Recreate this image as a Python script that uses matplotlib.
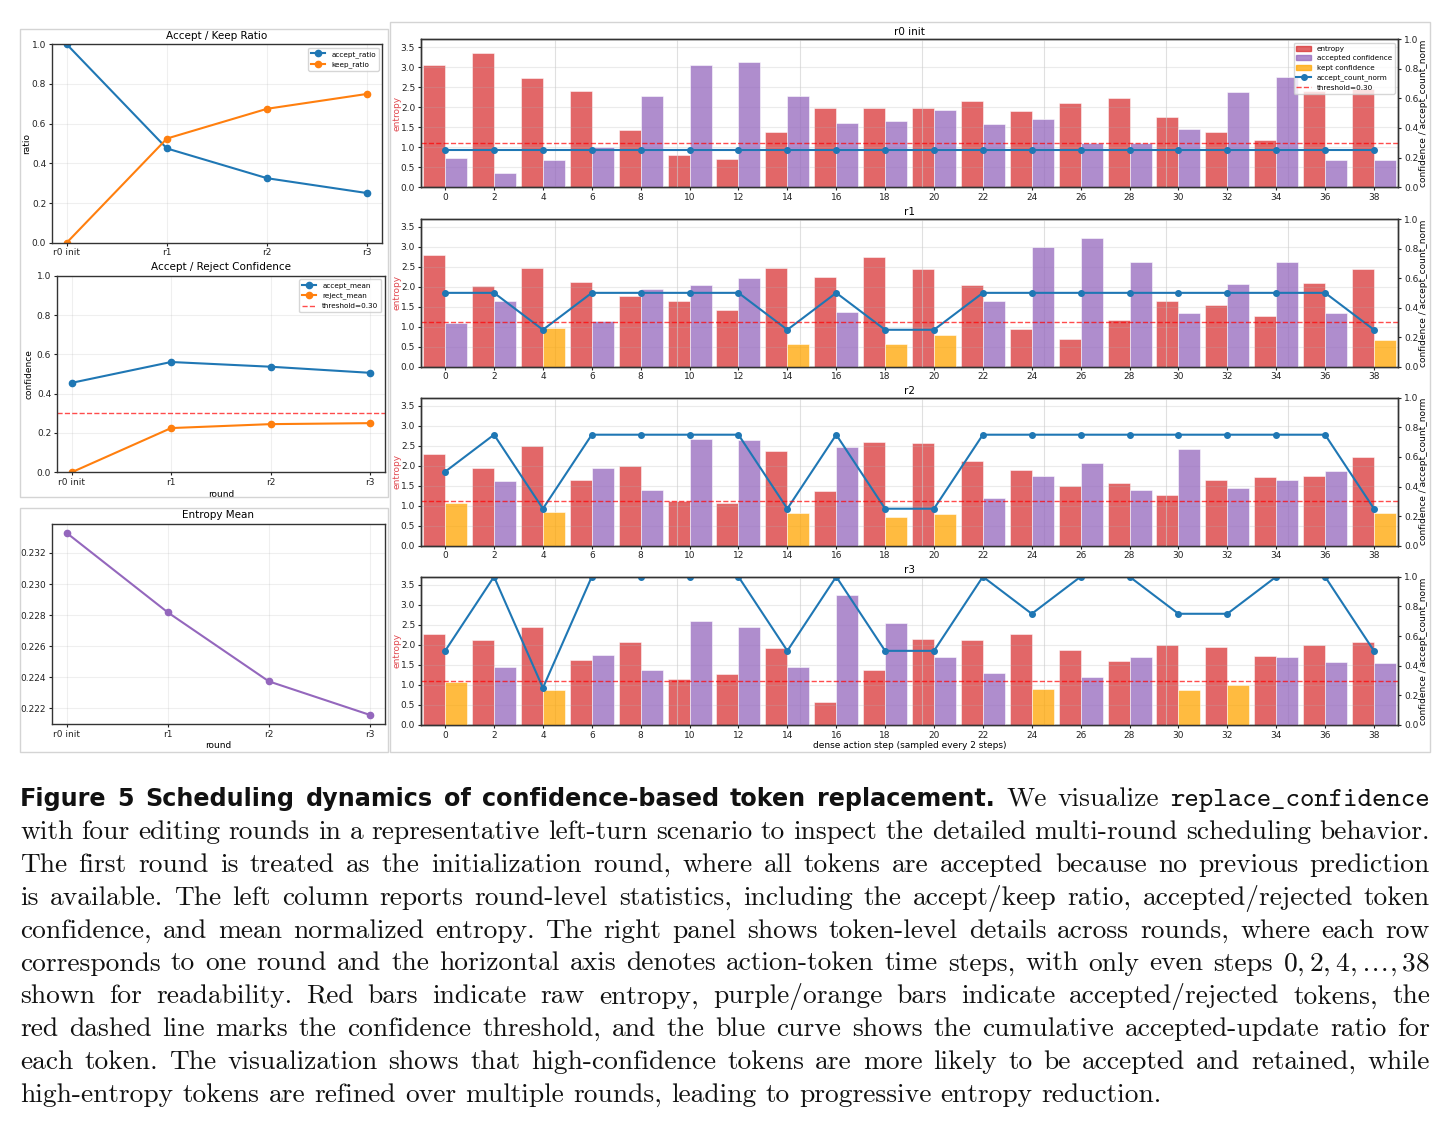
import numpy as np
import matplotlib
matplotlib.use("Agg")
import matplotlib.pyplot as plt
from matplotlib.patches import Patch, Rectangle
from matplotlib.lines import Line2D
from matplotlib.ticker import FormatStrFormatter

plt.rcParams["mathtext.fontset"] = "cm"

W, H = 1451, 1122

# ---- round level stats (left column) ----
rounds = ["r0 init", "r1", "r2", "r3"]
accept_ratio = [1.0, 0.475, 0.325, 0.25]
keep_ratio = [0.0, 0.525, 0.675, 0.75]
accept_mean = [0.455, 0.561, 0.537, 0.506]
reject_mean = [0.0, 0.225, 0.245, 0.250]
threshold = 0.30
entropy_mean = [0.23328, 0.22817, 0.22373, 0.22157]

# ---- token level details (right panel) ----
steps = list(range(0, 40, 2))
round_titles = ["r0 init", "r1", "r2", "r3"]

entropy_r0 = [3.04, 3.35, 2.73, 2.40, 1.42, 0.80, 0.70, 1.37, 1.97, 1.97,
              1.98, 2.16, 1.90, 2.11, 2.23, 1.76, 1.39, 1.17, 2.41, 2.45]
conf_r0 = [0.200, 0.096, 0.184, 0.270, 0.614, 0.827, 0.843, 0.616, 0.432, 0.450,
           0.524, 0.427, 0.463, 0.298, 0.302, 0.393, 0.641, 0.743, 0.187, 0.183]
kept_r0 = []
count_r0 = [0.25, 0.25, 0.25, 0.25, 0.25, 0.25, 0.25, 0.25, 0.25, 0.25,
            0.25, 0.25, 0.25, 0.25, 0.25, 0.25, 0.25, 0.25, 0.25, 0.25]

entropy_r1 = [2.80, 2.02, 2.47, 2.11, 1.78, 1.65, 1.43, 2.48, 2.25, 2.75,
              2.45, 2.05, 0.95, 0.70, 1.16, 1.64, 1.54, 1.27, 2.10, 2.44]
conf_r1 = [0.298, 0.446, 0.260, 0.311, 0.529, 0.556, 0.598, 0.152, 0.373, 0.155,
           0.217, 0.442, 0.808, 0.869, 0.707, 0.366, 0.558, 0.711, 0.363, 0.178]
kept_r1 = [4, 14, 18, 20, 38]
count_r1 = [0.5, 0.5, 0.25, 0.5, 0.5, 0.5, 0.5, 0.25, 0.5, 0.25,
            0.25, 0.5, 0.5, 0.5, 0.5, 0.5, 0.5, 0.5, 0.5, 0.25]

entropy_r2 = [2.28, 1.95, 2.49, 1.65, 1.99, 1.11, 1.06, 2.37, 1.37, 2.59,
              2.56, 2.11, 1.89, 1.50, 1.56, 1.27, 1.64, 1.72, 1.75, 2.21]
conf_r2 = [0.287, 0.438, 0.227, 0.526, 0.375, 0.719, 0.717, 0.218, 0.665, 0.193,
           0.212, 0.320, 0.473, 0.556, 0.376, 0.655, 0.392, 0.444, 0.505, 0.218]
kept_r2 = [0, 4, 14, 18, 20, 38]
count_r2 = [0.5, 0.75, 0.25, 0.75, 0.75, 0.75, 0.75, 0.25, 0.75, 0.25,
            0.25, 0.75, 0.75, 0.75, 0.75, 0.75, 0.75, 0.75, 0.75, 0.25]

entropy_r3 = [2.28, 2.11, 2.45, 1.63, 2.06, 1.14, 1.26, 1.93, 0.58, 1.38,
              2.15, 2.11, 2.26, 1.86, 1.60, 1.99, 1.95, 1.71, 1.99, 2.07]
conf_r3 = [0.289, 0.388, 0.238, 0.475, 0.372, 0.699, 0.662, 0.388, 0.876, 0.690,
           0.456, 0.353, 0.245, 0.321, 0.456, 0.236, 0.270, 0.456, 0.427, 0.416]
kept_r3 = [0, 4, 24, 30, 32]
count_r3 = [0.5, 1.0, 0.25, 1.0, 1.0, 1.0, 1.0, 0.5, 1.0, 0.5,
            0.5, 1.0, 0.75, 1.0, 1.0, 0.75, 0.75, 1.0, 1.0, 0.5]

all_entropy = [entropy_r0, entropy_r1, entropy_r2, entropy_r3]
all_conf = [conf_r0, conf_r1, conf_r2, conf_r3]
all_kept = [kept_r0, kept_r1, kept_r2, kept_r3]
all_count = [count_r0, count_r1, count_r2, count_r3]

heading = "Figure 5  Scheduling dynamics of confidence-based token replacement."
caption = [
    [(heading, "head"), ("We visualize", "body"), ("replace_confidence", "mono")],
    [("with four editing rounds in a representative left-turn scenario to inspect the detailed multi-round scheduling behavior.", "body")],
    [("The first round is treated as the initialization round, where all tokens are accepted because no previous prediction", "body")],
    [("is available. The left column reports round-level statistics, including the accept/keep ratio, accepted/rejected token", "body")],
    [("confidence, and mean normalized entropy. The right panel shows token-level details across rounds, where each row", "body")],
    [("corresponds to one round and the horizontal axis denotes action-token time steps, with only even steps", "body"),
     (r"$0,2,4,\ldots,38$", "body")],
    [("shown for readability. Red bars indicate raw entropy, purple/orange bars indicate accepted/rejected tokens, the", "body")],
    [("red dashed line marks the confidence threshold, and the blue curve shows the cumulative accepted-update ratio for", "body")],
    [("each token. The visualization shows that high-confidence tokens are more likely to be accepted and retained, while", "body")],
    [("high-entropy tokens are refined over multiple rounds, leading to progressive entropy reduction.", "body")],
]

fig = plt.figure(figsize=(W / 100, H / 100), dpi=100)


def px_axes(x0, y0, x1, y1):
    return fig.add_axes([x0 / W, 1 - y1 / H, (x1 - x0) / W, (y1 - y0) / H])


def style(ax):
    for s in ax.spines.values():
        s.set_color("#333333")
        s.set_linewidth(1.0)
    ax.tick_params(labelsize=6.5, colors="#222222", length=2.5, width=0.8, pad=1.5)


# panel frames
for (x0, y0, x1, y1) in [(20, 29, 388, 497), (20, 508, 388, 752), (390, 22, 1430, 752)]:
    fig.add_artist(Rectangle((x0 / W, 1 - y1 / H), (x1 - x0) / W, (y1 - y0) / H,
                             transform=fig.transFigure, fill=False,
                             ec="#d4d4d4", lw=1.0))

xr = np.arange(len(rounds))

# Accept / Keep Ratio
ax = px_axes(51.7, 44.3, 382.3, 242.7)
ax.plot(xr, accept_ratio, "-o", color="tab:blue", lw=1.5, ms=4.5, label="accept_ratio")
ax.plot(xr, keep_ratio, "-o", color="tab:orange", lw=1.5, ms=4.5, label="keep_ratio")
ax.set_ylim(0, 1)
ax.set_xticks(xr)
ax.set_xticklabels(rounds)
ax.set_ylabel("ratio", fontsize=6.5)
ax.yaxis.set_label_coords(-0.062, 0.5)
ax.set_title("Accept / Keep Ratio", fontsize=7.5, pad=4)
ax.grid(alpha=0.2)
ax.legend(loc="upper right", fontsize=5.2)
style(ax)

# Accept / Reject Confidence
ax = px_axes(56.7, 275.7, 385, 472.3)
ax.plot(xr, accept_mean, "-o", color="tab:blue", lw=1.5, ms=4.5, label="accept_mean")
ax.plot(xr, reject_mean, "-o", color="tab:orange", lw=1.5, ms=4.5, label="reject_mean")
ax.axhline(threshold, color="red", ls="--", lw=1.0, alpha=0.7, label="threshold=0.30")
ax.set_ylim(0, 1)
ax.set_xticks(xr)
ax.set_xticklabels(rounds)
ax.set_ylabel("confidence", fontsize=6.5)
ax.yaxis.set_label_coords(-0.07, 0.5)
ax.set_xlabel("round", fontsize=6.5, labelpad=2)
ax.set_title("Accept / Reject Confidence", fontsize=7.5, pad=4)
ax.grid(alpha=0.2)
ax.legend(loc="upper right", fontsize=5.2)
style(ax)

# Entropy Mean
ax = px_axes(51.7, 524, 385, 724)
ax.plot(xr, entropy_mean, "-o", color="tab:purple", lw=1.5, ms=4.5)
ax.set_xticks(xr)
ax.set_xticklabels(rounds)
ax.yaxis.set_major_formatter(FormatStrFormatter("%.3f"))
ax.set_xlabel("round", fontsize=6.5, labelpad=2)
ax.set_title("Entropy Mean", fontsize=7.5, pad=4)
ax.grid(alpha=0.2)
style(ax)

# token level panels
boxes = [(420.7, 39, 1398.4, 187.3), (420.7, 219, 1398.4, 366.7),
         (420.7, 397.7, 1398.4, 545.7), (420.7, 576.7, 1398.4, 725)]
st = np.array(steps)
for k in range(4):
    ax1 = px_axes(*boxes[k])
    ax2 = ax1.twinx()
    ent = np.array(all_entropy[k])
    conf = np.array(all_conf[k])
    kept = np.isin(st, all_kept[k])
    ax1.bar(st - 0.45, ent, width=0.9, color="tab:red", alpha=0.7,
            edgecolor="white", linewidth=0.5)
    ax2.bar(st + 0.45, np.where(kept, 0, conf), width=0.9, color="tab:purple",
            alpha=0.75, edgecolor="white", linewidth=0.5)
    ax2.bar(st + 0.45, np.where(kept, conf, 0), width=0.9, color="orange",
            alpha=0.75, edgecolor="white", linewidth=0.5)
    for xv in np.arange(4.5, 39, 5):
        ax2.axvline(xv, color="#cccccc", lw=0.8, alpha=0.6, zorder=0.5)
    ax2.plot(st, all_count[k], "-o", color="tab:blue", lw=1.5, ms=4)
    ax2.axhline(threshold, color="red", ls="--", lw=1.0, alpha=0.7)
    ax1.set_xlim(-1, 39)
    ax1.set_ylim(0, 3.7)
    ax1.set_yticks(np.arange(0, 3.51, 0.5))
    ax2.set_ylim(0, 1)
    ax1.set_xticks(steps)
    ax1.grid(axis="y", alpha=0.25)
    ax1.set_ylabel("entropy", fontsize=6.5, color="#e0484f")
    ax1.yaxis.set_label_coords(-0.02, 0.5)
    ax2.set_ylabel("confidence / accept_count_norm", fontsize=6.5)
    ax2.yaxis.set_label_coords(1.0215, 0.5)
    ax1.set_title(round_titles[k], fontsize=7.5, pad=3)
    style(ax1)
    style(ax2)
    if k == 3:
        ax1.set_xlabel("dense action step (sampled every 2 steps)", fontsize=6.5, labelpad=1)
    if k == 0:
        handles = [Patch(color="tab:red", alpha=0.7, label="entropy"),
                   Patch(color="tab:purple", alpha=0.75, label="accepted confidence"),
                   Patch(color="orange", alpha=0.75, label="kept confidence"),
                   Line2D([], [], color="tab:blue", marker="o", lw=1.5, ms=4, label="accept_count_norm"),
                   Line2D([], [], color="red", ls="--", lw=1.0, alpha=0.7, label="threshold=0.30")]
        ax2.legend(handles=handles, loc="upper right", fontsize=5.2)

# caption, justified line by line
renderer = fig.canvas.get_renderer()


def text_width(s, props):
    t = fig.text(0, 0, s, **props)
    w = t.get_window_extent(renderer).width
    t.remove()
    return w


# size the fonts so the natural line widths match the page
body_size = 19.3 * 1143 / text_width(caption[-1][0][0], dict(family="cmr10", size=19.3))
head_size = 18.5 * 968 / text_width(heading, dict(family="DejaVu Sans", size=18.5, weight="bold"))
fonts = {
    "head": dict(family="DejaVu Sans", size=head_size, weight="bold"),
    "body": dict(family="cmr10", size=body_size),
    "mono": dict(family="cmtt10", size=body_size),
}
x_left, x_right = 20, 1430
base0, lead = 806, 32.9
space = body_size * 100 / 72 * 0.333
for i, line in enumerate(caption):
    words = []
    for seg, kind in line:
        for w in seg.split():
            words.append((w, kind))
    y = 1 - (base0 + i * lead) / H
    texts = [fig.text(0, y, w, va="baseline", ha="left", color="#111111", **fonts[kd])
             for w, kd in words]
    widths = [t.get_window_extent(renderer).width for t in texts]
    if i < len(caption) - 1:
        gap = (x_right - x_left - sum(widths)) / (len(texts) - 1)
    else:
        gap = space
    x = x_left
    for t, w in zip(texts, widths):
        t.set_x(x / W)
        x += w + gap

fig.savefig("out.png", dpi=100)
